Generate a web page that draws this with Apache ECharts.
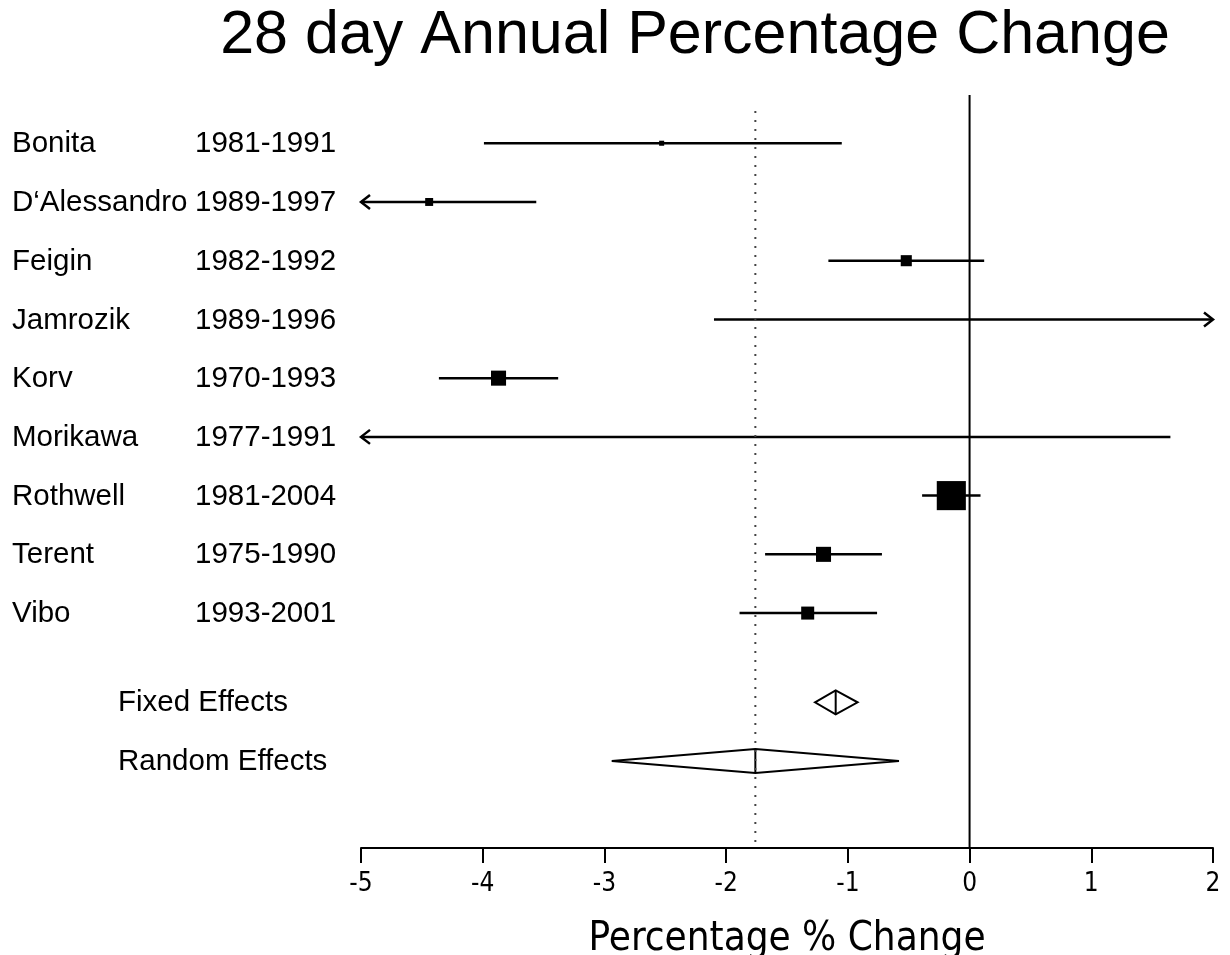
<!DOCTYPE html>
<html>
<head>
<meta charset="utf-8">
<script src="https://cdn.jsdelivr.net/npm/echarts@6/dist/echarts.min.js"></script>
<style>
  html, body { margin: 0; background: #fff; }
  #chart { width: 1230px; height: 955px; }
</style>
</head>
<body>
<div id="chart"></div>
<script>
// study data (annual % change, 95% CI)
const studies = ["Bonita", "D\u2018Alessandro", "Feigin", "Jamrozik", "Korv", "Morikawa", "Rothwell", "Terent", "Vibo"];
const periods = ["1981-1991", "1989-1997", "1982-1992", "1989-1996", "1970-1993", "1977-1991", "1981-2004", "1975-1990", "1993-2001"];
const estimates = [-2.53, -4.44, -0.52, 2.4, -3.87, -5.6, -0.15, -1.20, -1.33];
const lower = [-3.99, -5.32, -1.16, -2.10, -4.36, -12.85, -0.39, -1.68, -1.89];
const upper = [-1.05, -3.56, 0.12, 6.9, -3.38, 1.65, 0.09, -0.72, -0.76];
const weights = [1.2, 3.0, 5.8, 0.2, 10.7, 0.2, 40, 10.7, 8.0];

const summaryNames = ["Fixed Effects", "Random Effects"];
const summaryEst = [-1.10, -1.76];
const summaryLower = [-1.27, -2.94];
const summaryUpper = [-0.92, -0.58];

const xTicks = [-5, -4, -3, -2, -1, 0, 1, 2];

const X_MIN = xTicks[0], X_MAX = xTicks[xTicks.length - 1];
const Y_MAX = 13;
const FONT = "'Liberation Sans', Arial, sans-serif";
const NARROW = "'Liberation Sans Narrow', 'DejaVu Sans Condensed', sans-serif";

// row positions counted from the top, flipped for the y axis
const rowY = (r) => Y_MAX - r;
const studyRows = studies.map((s, i) => [rowY(i + 1), estimates[i], lower[i], upper[i], weights[i]]);
const summaryRows = summaryNames.map((s, i) => [rowY(studies.length + 1.52 + i), summaryEst[i], summaryLower[i], summaryUpper[i]]);
const labelRows = studies.map((s, i) => [rowY(i + 1), s, periods[i], 0])
  .concat(summaryNames.map((s, i) => [rowY(studies.length + 1.52 + i), s, "", 1]));

const chart = echarts.init(document.getElementById("chart"), null, { renderer: "canvas" });

function renderStudy(params, api) {
  const pos = api.value(0), est = api.value(1), lo = api.value(2), hi = api.value(3), w = api.value(4);
  const y = api.coord([0, pos])[1];
  const xl = api.coord([Math.max(lo, X_MIN), pos])[0];
  const xh = api.coord([Math.min(hi, X_MAX), pos])[0];
  const st = { stroke: "#000", lineWidth: 2.5, fill: null };
  const kids = [{ type: "line", shape: { x1: xl, y1: y, x2: xh, y2: y }, style: st }];
  if (lo < X_MIN) {
    kids.push({ type: "polyline", shape: { points: [[xl + 9, y - 7], [xl, y], [xl + 9, y + 7]] }, style: st });
  }
  if (hi > X_MAX) {
    kids.push({ type: "polyline", shape: { points: [[xh - 9, y - 7], [xh, y], [xh - 9, y + 7]] }, style: st });
  }
  if (est >= X_MIN && est <= X_MAX) {
    const s = 4.6 * Math.sqrt(w);
    const xe = api.coord([est, pos])[0];
    kids.push({ type: "rect", shape: { x: xe - s / 2, y: y - s / 2, width: s, height: s }, style: { fill: "#000" } });
  }
  return { type: "group", children: kids };
}

function renderSummary(params, api) {
  const pos = api.value(0);
  const c = api.coord([api.value(1), pos]);
  const xl = api.coord([api.value(2), pos])[0];
  const xh = api.coord([api.value(3), pos])[0];
  const h = 12;
  const st = { stroke: "#000", lineWidth: 2, fill: "#fff" };
  return {
    type: "group",
    children: [
      { type: "polygon", shape: { points: [[xl, c[1]], [c[0], c[1] - h], [xh, c[1]], [c[0], c[1] + h]] }, style: st },
      { type: "line", shape: { x1: c[0], y1: c[1] - h, x2: c[0], y2: c[1] + h }, style: { stroke: "#000", lineWidth: 2 } }
    ]
  };
}

function renderLabel(params, api) {
  const pos = api.value(0);
  const y = api.coord([0, pos])[1] + 1;
  const isSummary = api.value(3) === 1;
  const row = labelRows[params.dataIndex];
  const ts = { fill: "#000", font: "29.5px " + FONT, verticalAlign: "middle", textAlign: "left" };
  const kids = [{ type: "text", x: isSummary ? 118 : 12, y: y, style: Object.assign({ text: row[1] }, ts) }];
  if (!isSummary) {
    kids.push({ type: "text", x: 195, y: y, style: Object.assign({ text: row[2] }, ts) });
  }
  return { type: "group", children: kids };
}

chart.setOption({
  animation: false,
  backgroundColor: "#fff",
  graphic: [{
    type: "text", x: 695, y: 36,
    style: { text: "28 day Annual Percentage Change", font: "61px " + FONT, fill: "#000", textAlign: "center", verticalAlign: "middle" }
  }],
  grid: { left: 361, right: 17, top: 84.5, bottom: 107, containLabel: false, outerBoundsMode: "none" },
  xAxis: {
    type: "value", min: X_MIN, max: X_MAX, interval: 1, position: "bottom",
    axisLine: { show: true, onZero: false, lineStyle: { color: "#000", width: 2 } },
    axisTick: { show: true, inside: false, length: 15, lineStyle: { color: "#000", width: 2 } },
    axisLabel: { color: "#000", fontFamily: NARROW, fontSize: 26, margin: 23 },
    splitLine: { show: false },
    name: "Percentage % Change", nameLocation: "middle", nameGap: 72,
    nameTextStyle: { color: "#000", fontFamily: NARROW, fontSize: 40 }
  },
  yAxis: { type: "value", min: 0, max: Y_MAX, show: false },
  series: [
    {
      type: "line", data: [[0, rowY(0.18)], [0, 0]], symbol: "none", silent: true,
      lineStyle: { color: "#000", width: 2 }
    },
    {
      type: "line", data: [[summaryEst[1], rowY(0.45)], [summaryEst[1], 0]], symbol: "none", silent: true,
      lineStyle: { color: "#444", width: 2, type: [2, 7] }
    },
    { type: "custom", data: studyRows, renderItem: renderStudy, clip: false },
    { type: "custom", data: summaryRows, renderItem: renderSummary, clip: false },
    { type: "custom", data: labelRows, renderItem: renderLabel, clip: false }
  ]
});
</script>
</body>
</html>
